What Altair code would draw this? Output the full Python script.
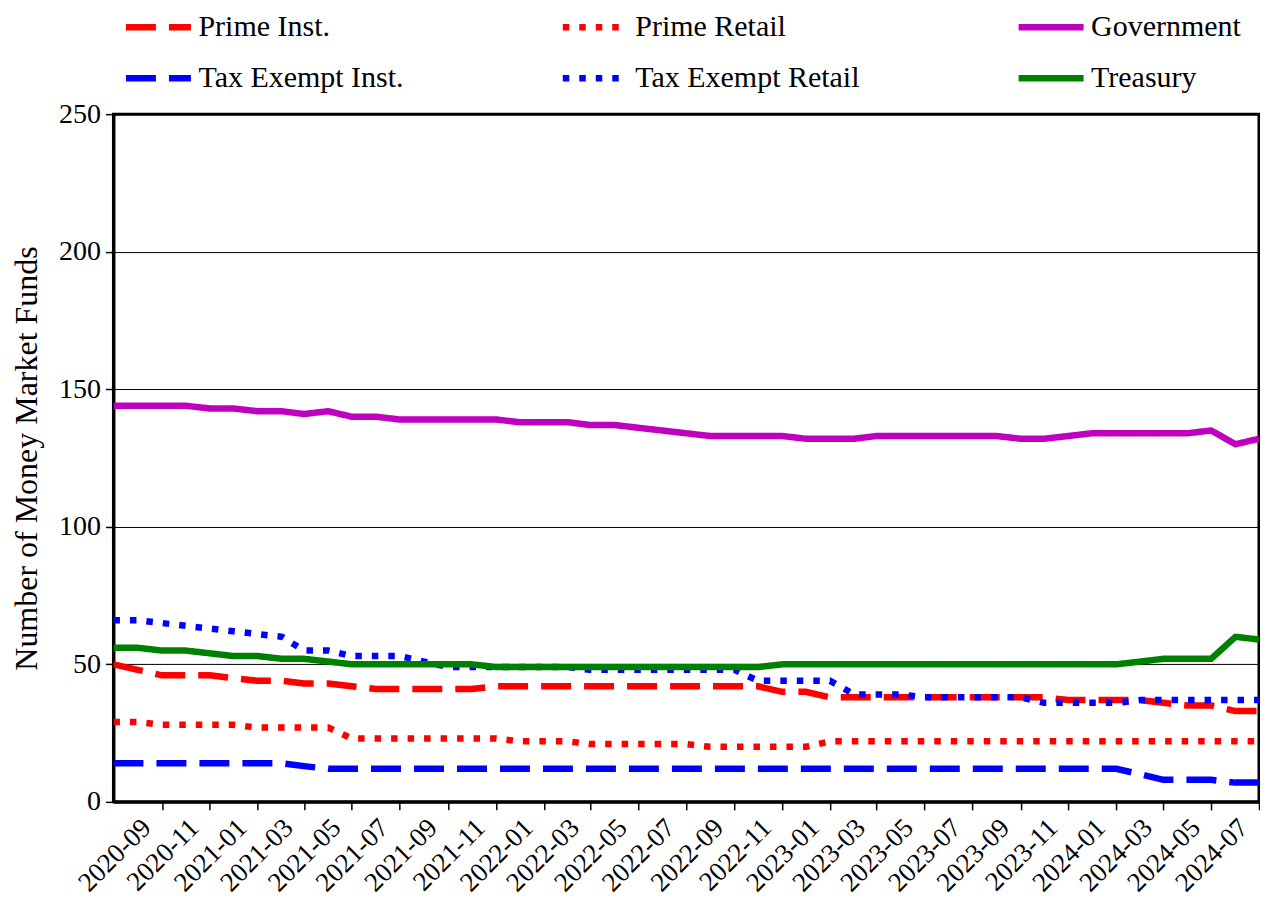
import altair as alt
import pandas as pd

# Monthly observation dates (first of month), 2020-07 .. 2024-07
months = pd.date_range("2020-07-01", "2024-07-01", freq="MS").strftime("%Y-%m-%d").tolist()

tick_labels = ["2020-09", "2020-11",
               "2021-01", "2021-03", "2021-05", "2021-07", "2021-09", "2021-11",
               "2022-01", "2022-03", "2022-05", "2022-07", "2022-09", "2022-11",
               "2023-01", "2023-03", "2023-05", "2023-07", "2023-09", "2023-11",
               "2024-01", "2024-03", "2024-05", "2024-07"]

prime_inst = [50, 48, 46, 46, 46, 45, 44, 44, 43, 43, 42,
              41, 41, 41, 41, 41,
              42, 42, 42, 42, 42, 42, 42, 42, 42, 42, 42, 42,
              40, 40,
              38, 38, 38, 38, 38, 38, 38, 38, 38, 38,
              37, 37, 37, 37, 36, 35, 35, 33, 33]

prime_retail = [29, 29, 28, 28, 28, 28, 27, 27, 27, 27,
                23, 23, 23, 23, 23, 23, 23,
                22, 22, 22,
                21, 21, 21, 21, 21,
                20, 20, 20, 20, 20,
                22, 22, 22, 22, 22, 22, 22, 22, 22, 22,
                22, 22, 22, 22, 22, 22, 22, 22, 22]

government = [144, 144, 144, 144, 143, 143, 142, 142, 141, 142, 140, 140,
              139, 139, 139, 139, 139, 138, 138, 138, 137, 137,
              136, 135, 134, 133, 133, 133, 133, 132, 132, 132,
              133, 133, 133, 133, 133, 133, 132, 132, 133,
              134, 134, 134, 134, 134, 135, 130, 132]

tax_exempt_inst = [14, 14, 14, 14, 14, 14, 14, 14, 13,
                   12, 12, 12, 12, 12, 12, 12, 12, 12, 12, 12, 12, 12, 12, 12, 12, 12,
                   12, 12, 12, 12, 12, 12, 12, 12, 12, 12, 12, 12, 12, 12, 12, 12, 12,
                   10, 8, 8, 8, 7, 7]

tax_exempt_retail = [66, 66, 65, 64, 63, 62, 61, 60, 55, 55, 53, 53, 53, 51, 49, 49,
                     49, 49, 49, 49,
                     48, 48, 48, 48, 48, 48, 48,
                     44, 44, 44, 44,
                     39, 39, 39,
                     38, 38, 38, 38, 38,
                     36, 36, 36, 36,
                     37, 37, 37, 37, 37, 37]

treasury = [56, 56, 55, 55, 54, 53, 53, 52, 52, 51, 50, 50, 50, 50, 50, 50,
            49, 49, 49, 49, 49, 49, 49, 49, 49, 49, 49, 49,
            50, 50, 50, 50, 50, 50, 50, 50, 50, 50, 50, 50, 50, 50, 50,
            51, 52, 52, 52, 60, 59]

series_names = ["Prime Inst.", "Prime Retail", "Government",
                "Tax Exempt Inst.", "Tax Exempt Retail", "Treasury"]
series_values = [prime_inst, prime_retail, government,
                 tax_exempt_inst, tax_exempt_retail, treasury]
series_colors = ["#ff0000", "#ff0000", "#bf00bf", "#0000ff", "#0000ff", "#008000"]
series_dashes = [[30, 13], [6.5, 10], [1, 0], [30, 13], [6.5, 10], [1, 0]]

rows = []
for name, vals in zip(series_names, series_values):
    for m, v in zip(months, vals):
        rows.append({"date": m, "value": v, "series": name})
df = pd.DataFrame(rows)

FONT = "Liberation Serif"

def dt(s):
    y, m = s.split("-")[:2]
    return alt.DateTime(year=int(y), month=int(m), date=1, utc=True)

legend = alt.Legend(
    title=None, orient="none", legendX=9, legendY=-123,
    columns=3, columnPadding=145, rowPadding=-15,
    symbolType="stroke", symbolSize=4225, symbolStrokeWidth=6.5,
    labelFont=FONT, labelFontSize=30, labelColor="black",
    labelOffset=4, labelLimit=500, direction="horizontal",
)

chart = alt.Chart(df).mark_line(strokeWidth=6.5, clip=True).encode(
    x=alt.X("date:T",
            scale=alt.Scale(type="utc", domain=[dt(months[0]), dt(months[-1])], nice=False),
            axis=alt.Axis(values=[dt(t) for t in tick_labels], format="%Y-%m",
                          labelAngle=-45, labelAlign="right", labelBaseline="alphabetic",
                          labelOffset=-10, labelPadding=19, tickSize=8, tickWidth=1.5,
                          tickColor="black", domainColor="black", domainWidth=3,
                          labelFont=FONT, labelFontSize=27, labelColor="black",
                          grid=False, title=None, labelOverlap=False)),
    y=alt.Y("value:Q",
            scale=alt.Scale(domain=[0, 250], nice=False),
            axis=alt.Axis(values=[0, 50, 100, 150, 200, 250], tickSize=8, tickWidth=1.5,
                          tickColor="black", domainColor="black", domainWidth=3,
                          labelFont=FONT, labelFontSize=28, labelColor="black",
                          labelPadding=5, grid=True, gridColor="black", gridWidth=1,
                          title="Number of Money Market Funds", titleFont=FONT,
                          titleFontSize=32, titleFontWeight="normal", titleColor="black",
                          titlePadding=15)),
    color=alt.Color("series:N", scale=alt.Scale(domain=series_names, range=series_colors),
                    legend=legend),
    strokeDash=alt.StrokeDash("series:N", scale=alt.Scale(domain=series_names, range=series_dashes),
                              legend=legend),
).properties(
    width=1146, height=688,
    padding={"left": 2.5, "top": -17, "right": 0, "bottom": 0},
).configure_view(stroke="black", strokeWidth=3)

chart.save("out.html", embed_options={"renderer": "svg", "actions": False})
